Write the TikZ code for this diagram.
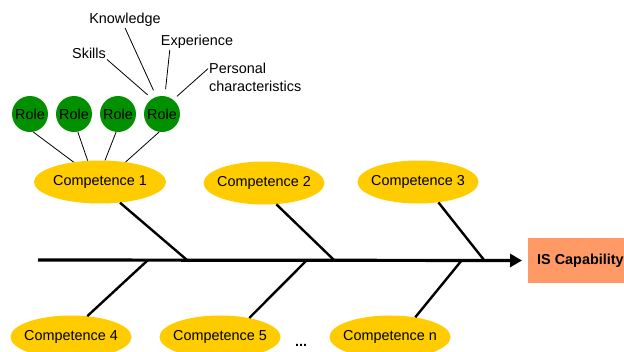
\documentclass[tikz,border=0pt]{standalone}
\usepackage{fontspec}
\setmainfont{Liberation Sans}
\usepackage{tikz}
\usetikzlibrary{shapes.geometric,arrows.meta}
\definecolor{compgold}{HTML}{FFCC00}
\definecolor{rolegreen}{HTML}{009000}
\definecolor{capsalmon}{HTML}{FF9966}
\tikzset{competence/.style={ellipse,fill=compgold,minimum width=121pt,minimum height=43pt,inner xsep=-6pt,inner ysep=0pt},
  role/.style={circle,fill=rolegreen,minimum size=36pt,inner sep=0pt},
  bone/.style={line width=2.4pt},
  twig/.style={line width=0.8pt},
  attr/.style={inner sep=1pt}}

\begin{document}
\begin{tikzpicture}[x=1pt,y=-1pt,font=\fontsize{14.4}{17}\selectfont] % 1 unit = 1 px, y nach unten
    \useasboundingbox (0,0) rectangle (624,351);
    % Ergebnis
    \node[fill=capsalmon,anchor=west,minimum height=45pt,inner xsep=9pt,font=\fontsize{14.4}{17}\selectfont\bfseries] (cap) at (528,260.5) {IS Capability};
    \coordinate (tail) at (38,260);
    \draw[line width=3.2pt,-{Triangle[length=12pt,width=13pt]},shorten >=6pt] (tail) -- (cap.west);
    % Kompetenzen
    \node[competence,minimum width=132pt] (c1) at (100,182) {Competence 1};
    \node[competence] (c2) at (264,183) {Competence 2};
    \node[competence] (c3) at (418,182) {Competence 3};
    \node[competence] (c4) at (71,337) {Competence 4};
    \node[competence] (c5) at (220,337) {Competence 5};
    \node[competence] (cn) at (390,337) {Competence n};
    \node[font=\fontsize{14.4}{17}\selectfont\bfseries,inner sep=0pt] (dots) at (301,345) {...};
    % Graeten
    \coordinate (b1) at (187,260);
    \coordinate (b2) at (334,260);
    \coordinate (b3) at (484,260);
    \coordinate (b4) at (148,260);
    \coordinate (b5) at (307,260);
    \coordinate (bn) at (462,260);
    \draw[bone] (c1.-46) -- (b1);
    \draw[bone] (c2.-60) -- (b2);
    \draw[bone] (c3.-45) -- (b3);
    \draw[bone] (c4.52) -- (b4);
    \draw[bone] (c5.33) -- (b5);
    \draw[bone] (cn.38) -- (bn);
    % Rollen
    \node[role] (r1) at (30,114) {Role};
    \node[role] (r2) at (74,114) {Role};
    \node[role] (r3) at (118,114) {Role};
    \node[role] (r4) at (162,114) {Role};
    \draw[twig] (r1.-80) -- (c1.143);
    \draw[twig] (r2.-78) -- (c1.120);
    \draw[twig] (r3.-96) -- (c1.77);
    \draw[twig] (r4.-99) -- (c1.38);
    % Merkmale einer Rolle
    \node[attr] (know) at (125,20) {Knowledge};
    \node[attr] (skill) at (89,53) {Skills};
    \node[attr] (exper) at (197,42) {Experience};
    \node[attr,anchor=west,align=left,font=\fontsize{14.4}{18}\selectfont] (pers) at (208,77) {Personal\\characteristics};
    \draw[twig,shorten >=7pt] (know.south) -- (r4.108);
    \draw[twig,shorten >=6pt] (skill.south east) -- (r4.123);
    \draw[twig,shorten >=7pt] ([xshift=10pt]exper.south west) -- (r4.81);
    \draw[twig,shorten >=5pt] (pers.170) -- (r4.52);
\end{tikzpicture}
\end{document}
